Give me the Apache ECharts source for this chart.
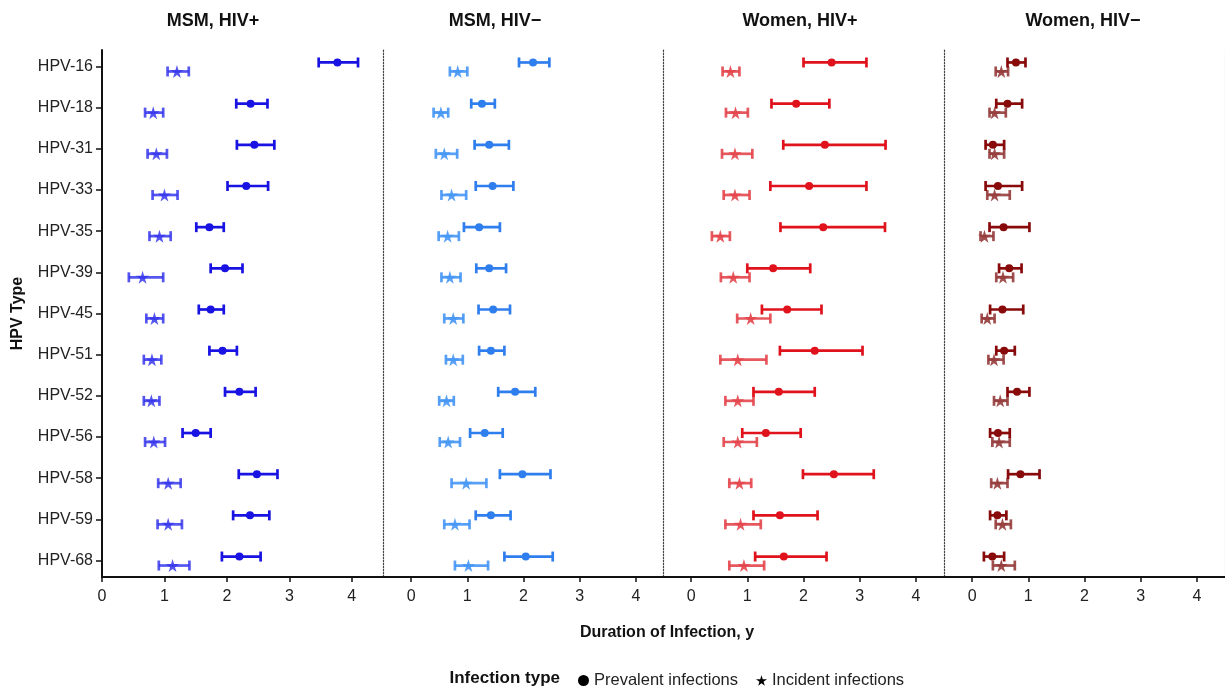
<!DOCTYPE html>
<html>
<head>
<meta charset="utf-8">
<script src="https://cdn.jsdelivr.net/npm/echarts@6/dist/echarts.min.js"></script>
<style>
  html, body { margin: 0; padding: 0; background: #fff; }
  #chart { width: 1225px; height: 688px; }
</style>
</head>
<body>
<div id="chart"></div>
<script>
// HPV types, top to bottom
var hpvTypes = ['HPV-16', 'HPV-18', 'HPV-31', 'HPV-33', 'HPV-35', 'HPV-39', 'HPV-45',
  'HPV-51', 'HPV-52', 'HPV-56', 'HPV-58', 'HPV-59', 'HPV-68'];
var panelTitles = ['MSM, HIV+', 'MSM, HIV\u2212', 'Women, HIV+', 'Women, HIV\u2212'];
var xTicks = [0, 1, 2, 3, 4];

// [estimate, lower, upper] per type, years
var msmPosPrev = [[3.77, 3.47, 4.10], [2.38, 2.15, 2.65], [2.44, 2.16, 2.76], [2.31, 2.01, 2.66],
  [1.72, 1.51, 1.95], [1.97, 1.74, 2.25], [1.74, 1.55, 1.95], [1.93, 1.72, 2.16], [2.20, 1.97, 2.46],
  [1.50, 1.29, 1.74], [2.48, 2.19, 2.81], [2.37, 2.10, 2.68], [2.20, 1.92, 2.54]];
var msmPosInc = [[1.20, 1.05, 1.39], [0.82, 0.69, 0.98], [0.87, 0.73, 1.04], [1.00, 0.81, 1.21],
  [0.92, 0.76, 1.10], [0.65, 0.43, 0.98], [0.84, 0.71, 0.98], [0.80, 0.67, 0.95], [0.79, 0.67, 0.92],
  [0.83, 0.69, 1.01], [1.06, 0.90, 1.26], [1.06, 0.89, 1.28], [1.13, 0.91, 1.40]];

var msmNegPrev = [[2.17, 1.92, 2.46], [1.26, 1.07, 1.49], [1.39, 1.13, 1.74], [1.45, 1.15, 1.82],
  [1.21, 0.94, 1.58], [1.39, 1.16, 1.69], [1.46, 1.20, 1.76], [1.42, 1.21, 1.66], [1.85, 1.55, 2.21],
  [1.31, 1.05, 1.63], [1.98, 1.58, 2.48], [1.42, 1.15, 1.77], [2.04, 1.66, 2.52]];
var msmNegInc = [[0.83, 0.69, 1.00], [0.53, 0.40, 0.66], [0.59, 0.44, 0.82], [0.72, 0.54, 0.98],
  [0.65, 0.49, 0.85], [0.69, 0.54, 0.88], [0.75, 0.59, 0.93], [0.75, 0.62, 0.92], [0.63, 0.50, 0.76],
  [0.66, 0.51, 0.87], [0.98, 0.72, 1.34], [0.78, 0.59, 1.04], [1.02, 0.78, 1.37]];

var womenPosPrev = [[2.50, 2.00, 3.12], [1.87, 1.43, 2.46], [2.38, 1.64, 3.46], [2.10, 1.41, 3.12],
  [2.35, 1.59, 3.45], [1.46, 1.00, 2.12], [1.71, 1.26, 2.32], [2.20, 1.58, 3.05], [1.56, 1.11, 2.20],
  [1.33, 0.91, 1.95], [2.54, 1.99, 3.25], [1.58, 1.11, 2.25], [1.65, 1.14, 2.41]];
var womenPosInc = [[0.70, 0.56, 0.86], [0.79, 0.62, 1.01], [0.78, 0.55, 1.09], [0.78, 0.58, 1.04],
  [0.52, 0.37, 0.69], [0.75, 0.53, 1.04], [1.06, 0.82, 1.41], [0.83, 0.52, 1.34], [0.83, 0.61, 1.11],
  [0.83, 0.58, 1.17], [0.86, 0.68, 1.07], [0.88, 0.61, 1.24], [0.94, 0.68, 1.30]];

var womenNegPrev = [[0.78, 0.63, 0.95], [0.63, 0.43, 0.89], [0.37, 0.24, 0.57], [0.46, 0.24, 0.89],
  [0.56, 0.31, 1.02], [0.66, 0.48, 0.88], [0.54, 0.32, 0.91], [0.57, 0.43, 0.76], [0.80, 0.63, 1.02],
  [0.46, 0.32, 0.67], [0.86, 0.64, 1.20], [0.45, 0.32, 0.61], [0.36, 0.21, 0.57]];
var womenNegInc = [[0.52, 0.42, 0.64], [0.40, 0.31, 0.60], [0.40, 0.31, 0.57], [0.40, 0.27, 0.67],
  [0.22, 0.15, 0.38], [0.55, 0.43, 0.73], [0.27, 0.17, 0.40], [0.39, 0.29, 0.56], [0.50, 0.39, 0.63],
  [0.48, 0.36, 0.67], [0.45, 0.34, 0.63], [0.54, 0.42, 0.69], [0.52, 0.37, 0.76]];

var panels = [
  {prev: msmPosPrev, inc: msmPosInc, c1: '#1812E2', c2: 'rgba(55,55,236,0.85)', xmin: 0},
  {prev: msmNegPrev, inc: msmNegInc, c1: '#2F7EEE', c2: 'rgba(70,150,245,0.9)', xmin: -0.5},
  {prev: womenPosPrev, inc: womenPosInc, c1: '#E0121C', c2: 'rgba(228,70,76,0.9)', xmin: -0.5},
  {prev: womenNegPrev, inc: womenNegInc, c1: '#880A0A', c2: 'rgba(150,60,60,0.9)', xmin: -0.5}
];

var FONT = 'Liberation Sans, Arial, Helvetica, sans-serif';
var STAR = 'path://M50,0 L61,35 L98,35 L68,57 L79,91 L50,70 L21,91 L32,57 L2,35 L39,35 Z';
var gridLeft = [102, 383, 663, 944];
var PREV_DY = -4, INC_DY = 5;

function errorBar(dy) {
  return function(params, api) {
    var a = api.coord([api.value(0), api.value(2)]);
    var b = api.coord([api.value(1), api.value(2)]);
    var y = a[1] + dy, h = 5;
    var style = {stroke: api.visual('color'), lineWidth: 2.7};
    return {
      type: 'group',
      children: [
        {type: 'line', shape: {x1: a[0], y1: y, x2: b[0], y2: y}, style: style},
        {type: 'line', shape: {x1: a[0], y1: y - h, x2: a[0], y2: y + h}, style: style},
        {type: 'line', shape: {x1: b[0], y1: y - h, x2: b[0], y2: y + h}, style: style}
      ]
    };
  };
}

var grids = [], xAxes = [], yAxes = [], series = [], graphics = [];

panels.forEach(function(p, i) {
  grids.push({left: gridLeft[i], width: 281, top: 50, height: 527});
  xAxes.push({
    type: 'value', gridIndex: i, min: p.xmin, max: 4.5,
    axisLine: {show: true, onZero: false, lineStyle: {color: '#111', width: 2}},
    axisTick: {show: true, length: 5, customValues: xTicks, lineStyle: {color: '#111', width: 1.5}},
    axisLabel: {customValues: xTicks, color: '#222', fontSize: 16, fontFamily: FONT, margin: 12},
    splitLine: {show: false}
  });
  var y = {
    type: 'value', gridIndex: i, inverse: true, min: -0.4, max: 12.4,
    splitLine: {show: false},
    axisLine: {show: true, onZero: false, lineStyle: {color: '#444', width: 1.2, type: [1.5, 1.5]}},
    axisTick: {show: false},
    axisLabel: {show: false}
  };
  if (i === 0) {
    y.axisLine = {show: true, onZero: false, lineStyle: {color: '#111', width: 2}};
    y.axisTick = {show: true, length: 6, customValues: hpvTypes.map(function(d, k) { return k; }),
      lineStyle: {color: '#111', width: 1.5}};
    y.axisLabel = {
      show: true, customValues: hpvTypes.map(function(d, k) { return k; }),
      formatter: function(v) { return hpvTypes[Math.round(v)]; },
      color: '#222', fontSize: 16, fontFamily: FONT, margin: 9
    };
    y.name = 'HPV Type';
    y.nameLocation = 'middle';
    y.nameRotate = 90;
    y.nameGap = 76;
    y.nameTextStyle = {fontWeight: 'bold', fontSize: 16, color: '#111', fontFamily: FONT};
  }
  yAxes.push(y);

  var prevBars = p.prev.map(function(d, k) { return [d[1], d[2], k]; });
  var incBars = p.inc.map(function(d, k) { return [d[1], d[2], k]; });
  series.push({
    type: 'custom', xAxisIndex: i, yAxisIndex: i, renderItem: errorBar(INC_DY),
    itemStyle: {color: p.c2}, data: incBars, silent: true, z: 2
  });
  series.push({
    type: 'custom', xAxisIndex: i, yAxisIndex: i, renderItem: errorBar(PREV_DY),
    itemStyle: {color: p.c1}, data: prevBars, silent: true, z: 3
  });
  series.push({
    name: 'Incident infections', type: 'scatter', xAxisIndex: i, yAxisIndex: i,
    symbol: STAR, symbolSize: 13, symbolOffset: [0, INC_DY],
    itemStyle: {color: p.c2, opacity: 1}, z: 4,
    data: p.inc.map(function(d, k) { return [d[0], k]; })
  });
  series.push({
    name: 'Prevalent infections', type: 'scatter', xAxisIndex: i, yAxisIndex: i,
    symbol: 'circle', symbolSize: 8, symbolOffset: [0, PREV_DY],
    itemStyle: {color: p.c1, opacity: 1}, z: 5,
    data: p.prev.map(function(d, k) { return [d[0], k]; })
  });
});

// light dotted frame on the far right
yAxes.push({
  type: 'value', gridIndex: 3, position: 'right', inverse: true, min: -0.4, max: 12.4,
  axisLine: {show: true, onZero: false, lineStyle: {color: '#bbb', width: 1.2, type: [1.5, 1.5]}},
  axisTick: {show: false}, axisLabel: {show: false}, splitLine: {show: false}
});

var titleX = [213, 495, 800, 1083];
panelTitles.forEach(function(t, i) {
  graphics.push({
    type: 'text', x: titleX[i], y: 21,
    style: {text: t, fill: '#111', font: 'bold 18px ' + FONT, textAlign: 'center', textVerticalAlign: 'middle'}
  });
});
graphics.push({
  type: 'text', x: 667, y: 633,
  style: {text: 'Duration of Infection, y', fill: '#111', font: 'bold 16px ' + FONT,
    textAlign: 'center', textVerticalAlign: 'middle'}
});
graphics.push({
  type: 'text', x: 560, y: 678,
  style: {text: 'Infection type', fill: '#111', font: 'bold 17px ' + FONT,
    textAlign: 'right', textVerticalAlign: 'middle'}
});

var chart = echarts.init(document.getElementById('chart'), null, {renderer: 'canvas'});
chart.setOption({
  backgroundColor: '#fff',
  animation: false,
  grid: grids,
  xAxis: xAxes,
  yAxis: yAxes,
  legend: {
    left: 573, top: 667, itemWidth: 11, itemHeight: 11, itemGap: 18,
    textStyle: {fontSize: 16.5, color: '#222', fontFamily: FONT},
    data: [
      {name: 'Prevalent infections', icon: 'circle', itemStyle: {color: '#000'}},
      {name: 'Incident infections', icon: STAR, itemStyle: {color: '#000'}}
    ],
    selectedMode: false
  },
  graphic: graphics,
  series: series
});
</script>
</body>
</html>
